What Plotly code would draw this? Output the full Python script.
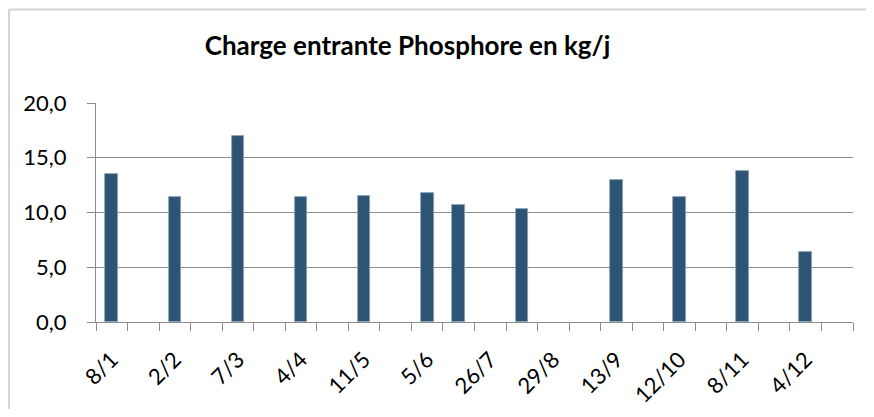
import plotly.graph_objects as go

# 24 slots on the category axis; only every second slot is labelled
tick_labels = ["8/1", "2/2", "7/3", "4/4", "11/5", "5/6", "26/7", "29/8",
               "13/9", "12/10", "8/11", "4/12"]
slot_index = list(range(24))
values = [13.5, None, 11.4, None, 17.0, None, 11.4, None, 11.5, None, 11.8, 10.7,
          None, 10.3, None, None, 13.0, None, 11.4, None, 13.8, None, 6.4, None]
label_slots = slot_index[::2]

FONT = "Lato, 'Open Sans', sans-serif"
GRID = "#8c8c8c"

# page has an 8px body margin, so the figure is offset by 8px
W, H = 858, 401
L, R, T, B = 88, 13, 95, 87
PW, PH = W - L - R, H - T - B

fig = go.Figure()
fig.add_trace(go.Bar(
    x=slot_index, y=values, width=0.4,
    marker=dict(color="#2E5475", line=dict(color="#8fa3b8", width=0.8)),
    hoverinfo="x+y",
))

fig.update_layout(
    width=W, height=H,
    margin=dict(l=L, r=R, t=T, b=B, autoexpand=False),
    paper_bgcolor="white", plot_bgcolor="white",
    showlegend=False, bargap=0,
    title=dict(text="<b>Charge entrante Phosphore en kg/j</b>",
               x=(407.5 - 8) / W, xref="container", xanchor="center",
               y=1 - (46 - 8) / H, yref="container", yanchor="middle",
               font=dict(family=FONT, size=26, color="black")),
    font=dict(family=FONT, size=21, color="black"),
    separators=", ",
)

fig.update_xaxes(
    range=[-0.5, 23.5], tickmode="array", tickvals=label_slots, ticktext=tick_labels,
    tickangle=-45, ticks="", showgrid=False, zeroline=False,
    showline=True, linecolor=GRID, linewidth=1, ticklabelstandoff=15,
    tickfont=dict(family=FONT, size=22, color="black"),
    minor=dict(tick0=-0.5, dtick=1, ticks="outside", ticklen=8,
               tickcolor=GRID, tickwidth=1, showgrid=False),
)
fig.update_yaxes(
    range=[0, 20], tickmode="linear", tick0=0, dtick=5, tickformat=".1f",
    showgrid=True, gridcolor=GRID, gridwidth=1, zeroline=False,
    showline=True, linecolor=GRID, linewidth=1,
    ticks="outside", ticklen=8, tickcolor=GRID, ticklabelstandoff=16,
    tickfont=dict(family=FONT, size=22, color="black"),
)

# outer chart border, left and top edges (image coords -> paper coords)
def px(xi):
    return (xi - 8 - L) / PW

def py(yi):
    return 1 - (yi - 8 - T) / PH

border = dict(color="#d4d4d4", width=2)
fig.add_shape(type="line", xref="paper", yref="paper",
              x0=px(9), x1=px(9), y0=py(440), y1=py(9.5), line=border, layer="below")
fig.add_shape(type="line", xref="paper", yref="paper",
              x0=px(9), x1=px(900), y0=py(9.5), y1=py(9.5), line=border, layer="below")

fig.write_html("out.html")
